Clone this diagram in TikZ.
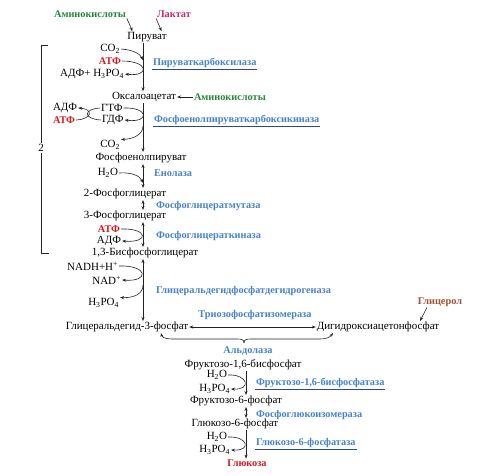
\documentclass[tikz,border=0pt]{standalone}
\usepackage{fontspec}
\setmainfont{Liberation Serif}
\usetikzlibrary{arrows.meta}
\definecolor{cgreen}{RGB}{40,135,60}
\definecolor{cmag}{RGB}{200,40,110}
\definecolor{cblue}{RGB}{70,130,205}
\definecolor{cred}{RGB}{215,25,30}
\definecolor{cbrown}{RGB}{160,80,50}
\definecolor{cline}{RGB}{35,35,35}
\begin{document}
\begin{tikzpicture}[x=1pt,y=-1pt,
  mt/.style={inner sep=0.8pt, font=\fontsize{11}{12}\selectfont, text=black},
  colb/.style={inner sep=0.8pt, font=\fontsize{10.3}{12}\selectfont\bfseries},
  enz/.style={colb, text=cblue, anchor=west},
  gr/.style={colb, text=cgreen},
  mg/.style={colb, text=cmag},
  rd/.style={colb, text=cred},
  br/.style={colb, text=cbrown},
  arr/.style={draw=cline, line width=0.6pt, -{Stealth[length=4pt,width=3pt]}},
  darr/.style={draw=cline, line width=0.6pt, {Stealth[length=4pt,width=3pt]}-{Stealth[length=4pt,width=3pt]}},
  ln/.style={draw=cline, line width=0.6pt},
  ul/.style={draw=cblue!60!black, line width=0.7pt}]
\useasboundingbox (0,0) rectangle (500,475);
\coordinate (mx) at (143,0);
\coordinate (mx2) at (246,0);

% top
\node[gr] (amk1) at (90,14) {Аминокислоты};
\node[mg] (lac) at (174,14) {Лактат};
\node[mt] (pyr) at (147,37) {Пируват};
\draw[arr] (amk1.south east) -- ([xshift=6pt]pyr.north west);
\draw[arr] (lac.south west) -- ([xshift=-6pt]pyr.north east);

% pyruvate carboxylase
\node[mt,anchor=east] (co2a) at (121,49) {CO\textsubscript{2}};
\node[rd,anchor=east] (atp1) at (122,61) {АТФ};
\node[mt,anchor=east] (adp1) at (125,74) {АДФ+ H\textsubscript{3}PO\textsubscript{4}};
\node[enz] (pc) at (152,63) {Пируваткарбоксилаза};
\draw[ul] ([yshift=-0.5pt]pc.south west) -- ([yshift=-0.5pt]pc.south east);
\node[mt] (oxa) at (144,97) {Оксалоацетат};
\node[gr,anchor=west] (amk2) at (193,97) {Аминокислоты};
\draw[arr] (amk2.west) -- (oxa.east);
\draw[arr] (pyr.south -| mx) -- (oxa.north -| mx);
\draw[arr] (co2a.east) .. controls (134,50) and (140,54) .. (143,60);
\draw[arr] (atp1.east) .. controls (149,61) and (150,77) .. (adp1.east);

% PEPCK
\node[mt,anchor=west] (adp2) at (52,108) {АДФ};
\node[rd,anchor=west] (atp2) at (52,120) {АТФ};
\node[mt,anchor=west] (gtf) at (100,108) {ГТФ};
\node[mt,anchor=west] (gdf) at (101,120) {ГДФ};
\node[enz] (pepck) at (153,120) {Фосфоенолпируваткарбоксикиназа};
\draw[ul] ([yshift=-0.5pt]pepck.south west) -- ([yshift=-0.5pt]pepck.south east);
\node[mt,anchor=east] (co2b) at (121,145) {CO\textsubscript{2}};
\node[mt] (pep) at (141,158) {Фосфоенолпируват};
\draw[arr] (oxa.south -| mx) -- (pep.north -| mx);
\draw[arr] (atp2.east) .. controls (93,119) and (93,109) .. (adp2.east);
\draw[ln] (gtf.west) .. controls (83,109) and (83,119) .. (gdf.west);
\draw[arr] (gtf.east) .. controls (149,107) and (150,123) .. (gdf.east);
\draw[arr] (143,126) .. controls (143,134) and (134,139) .. (co2b.north east);

% enolase
\node[mt,anchor=east] (h2o1) at (119,173) {H\textsubscript{2}O};
\node[enz] (eno) at (153,173) {Енолаза};
\node[mt] (pg2) at (125,194) {2-Фосфоглицерат};
\draw[darr] (pep.south -| mx) -- (pg2.north -| mx);
\draw[arr] (h2o1.east) .. controls (132,172) and (140,176) .. (143,183);

% mutase
\node[enz] (pgm) at (155,206) {Фосфоглицератмутаза};
\node[mt] (pg3) at (125,216) {3-Фосфоглицерат};
\draw[darr] (pg2.south -| mx) -- (pg3.north -| mx);

% kinase
\node[rd,anchor=east] (atp3) at (121,229) {АТФ};
\node[mt,anchor=east] (adp3) at (122,241) {АДФ};
\node[enz] (pgk) at (155,236) {Фосфоглицераткиназа};
\node[mt] (bpg) at (145,253) {1,3-Бисфосфоглицерат};
\draw[darr] (pg3.south -| mx) -- (bpg.north -| mx);
\draw[arr] (atp3.east) .. controls (148,228) and (150,243) .. (adp3.east);

% bracket
\node[mt] (two) at (41,148) {2};
\draw[ln] (48,45) -- (41,45) -- (two.north);
\draw[ln] (two.south) -- (41,253) -- (49,253);

% GAPDH
\node[mt,anchor=east] (nadh) at (119,266) {NADH+H\textsuperscript{+}};
\node[mt,anchor=east] (nad) at (122,280) {NAD\textsuperscript{+}};
\node[mt,anchor=east] (h3po4a) at (120,303) {H\textsubscript{3}PO\textsubscript{4}};
\node[enz] (gapdh) at (155,291) {Глицеральдегидфосфатдегидрогеназа};
\node[mt] (g3p) at (127,327) {Глицеральдегид-3-фосфат};
\draw[darr] (bpg.south -| mx) -- (g3p.north -| mx);
\draw[arr] (nadh.east) .. controls (148,265) and (150,282) .. (nad.east);
\draw[arr] (143,285) .. controls (143,294) and (134,298) .. (h3po4a.north east);

% TPI
\node[br] (glyc) at (440,302) {Глицерол};
\node[enz,anchor=center] (tpi) at (255,315) {Триозофосфатизомераза};
\node[mt] (dhap) at (378,327) {Дигидроксиацетонфосфат};
\draw[darr] (g3p.east) -- (dhap.west);
\draw[arr] ([xshift=10pt]glyc.south west) -- ([xshift=42pt]dhap.north);

% aldolase brace
\node[enz,anchor=center] (ald) at (248,351) {Альдолаза};
\coordinate (btip) at (244,343);
\draw[arr] (btip) .. controls (244,339) and (241,339) .. (236,339) -- (172,339) .. controls (165,339) and (162,337) .. (161,333);
\draw[arr] (btip) .. controls (244,339) and (247,339) .. (252,339) -- (320,339) .. controls (327,339) and (330,337) .. (333,333);

% FBPase
\node[mt] (fbp) at (243,365) {Фруктозо-1,6-бисфосфат};
\node[mt,anchor=east] (h2o2) at (228,375) {H\textsubscript{2}O};
\node[mt,anchor=east] (h3po4b) at (231,389) {H\textsubscript{3}PO\textsubscript{4}};
\node[enz] (fbpase) at (255,383) {Фруктозо-1,6-бисфосфатаза};
\draw[ul] ([yshift=-0.5pt]fbpase.south west) -- ([yshift=-0.5pt]fbpase.south east);
\node[mt] (f6p) at (236,401) {Фруктозо-6-фосфат};
\draw[arr] (fbp.south -| mx2) -- (f6p.north -| mx2);
\draw[arr] (h2o2.east) .. controls (248,374) and (252,390) .. (h3po4b.east);

% PGI
\node[enz] (pgi) at (255,415) {Фосфоглюкоизомераза};
\node[mt] (g6p) at (235,424) {Глюкозо-6-фосфат};
\draw[darr] (f6p.south -| mx2) -- (g6p.north -| mx2);

% G6Pase
\node[mt,anchor=east] (h2o3) at (228,437) {H\textsubscript{2}O};
\node[mt,anchor=east] (h3po4c) at (231,450) {H\textsubscript{3}PO\textsubscript{4}};
\node[enz] (g6pase) at (255,443) {Глюкозо-6-фосфатаза};
\draw[ul] ([yshift=-0.5pt]g6pase.south west) -- ([yshift=-0.5pt]g6pase.south east);
\node[rd] (glc) at (247,463) {Глюкоза};
\draw[arr] (g6p.south -| mx2) -- (glc.north -| mx2);
\draw[arr] (h2o3.east) .. controls (248,436) and (252,451) .. (h3po4c.east);
\end{tikzpicture}
\end{document}
